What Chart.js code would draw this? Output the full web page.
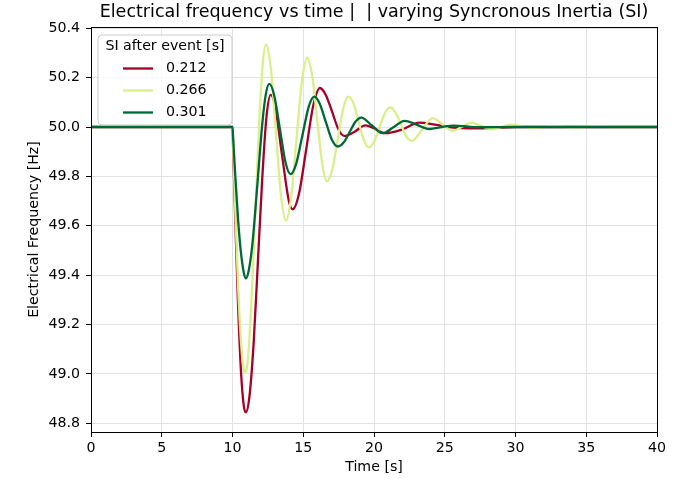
<!DOCTYPE html>
<html><head><meta charset="utf-8">
<script src="https://cdn.jsdelivr.net/npm/chart.js@4.4.0/dist/chart.umd.min.js"></script>
<style>html,body{margin:0;padding:0;background:#fff;}</style>
</head><body>
<canvas id="c" width="680" height="479"></canvas>
<script>
// ---- data ----
const chartTitle = 'Electrical frequency vs time |  | varying Syncronous Inertia (SI)';
const xLabel = 'Time [s]';
const yLabel = 'Electrical Frequency [Hz]';
const legendTitle = 'SI after event [s]';
const siLabels = ['0.212', '0.266', '0.301'];
const seriesColors = ['#a50026', '#d9ef8b', '#006837'];
const xTicks = [0, 5, 10, 15, 20, 25, 30, 35, 40];
const yTicks = [48.8, 49.0, 49.2, 49.4, 49.6, 49.8, 50.0, 50.2, 50.4];

const redTime = [0, 10, 10.05, 10.2, 10.4, 10.6, 10.8, 10.95, 11.2, 11.5, 11.8, 12.1, 12.4, 12.7, 13.0, 13.5, 14.0, 14.25, 14.7, 15.2, 15.7, 16.18, 16.6, 17.0, 17.5, 17.9, 18.6, 19.4, 20.0, 20.8, 22.0, 23.2, 24.3, 25.6, 27.0, 28.2, 30.0, 32, 40];
const redFreq = [50.0, 50.0, 49.90, 49.62, 49.27, 49.01, 48.87, 48.845, 48.91, 49.13, 49.46, 49.79, 50.04, 50.13, 50.087, 49.886, 49.696, 49.667, 49.73, 49.906, 50.085, 50.158, 50.129, 50.068, 49.989, 49.964, 49.98, 50.007, 49.995, 49.975, 49.99, 50.018, 50.01, 49.998, 49.995, 49.996, 50.0, 50.0, 50.0];

const lightTime = [0, 10, 10.05, 10.2, 10.4, 10.6, 10.75, 10.88, 11.05, 11.3, 11.6, 11.9, 12.15, 12.37, 12.7, 13.05, 13.4, 13.77, 14.15, 14.5, 14.9, 15.28, 15.65, 16.0, 16.35, 16.68, 17.05, 17.45, 17.85, 18.2, 18.55, 18.9, 19.3, 19.63, 20.0, 20.4, 20.8, 21.13, 21.5, 21.9, 22.3, 22.7, 23.4, 24.15, 24.85, 25.55, 26.2, 26.85, 27.6, 28.3, 29.0, 29.7, 30.4, 31.2, 32.6, 34.0, 35.5, 37, 40];
const lightFreq = [50.0, 50.0, 49.91, 49.66, 49.35, 49.13, 49.035, 49.006, 49.04, 49.25, 49.636, 50.035, 50.265, 50.335, 50.241, 49.993, 49.737, 49.62, 49.718, 49.934, 50.182, 50.281, 50.2, 50.023, 49.848, 49.78, 49.828, 49.955, 50.08, 50.123, 50.095, 50.025, 49.945, 49.918, 49.94, 50.0, 50.06, 50.079, 50.06, 50.012, 49.96, 49.944, 49.99, 50.036, 50.01, 49.984, 50.0, 50.018, 50.004, 49.991, 50.0, 50.01, 50.003, 49.996, 50.005, 49.998, 50.002, 50.0, 50.0];

const darkTime = [0, 10, 10.05, 10.2, 10.4, 10.6, 10.8, 10.95, 11.15, 11.4, 11.75, 12.1, 12.35, 12.6, 12.95, 13.35, 13.75, 14.1, 14.5, 14.95, 15.4, 15.78, 16.15, 16.6, 17.05, 17.45, 17.85, 18.28, 18.7, 19.1, 19.85, 20.6, 21.4, 22.15, 23.0, 23.9, 24.8, 25.6, 27.5, 30, 40];
const darkFreq = [50.0, 50.0, 49.95, 49.80, 49.62, 49.49, 49.41, 49.387, 49.42, 49.523, 49.762, 50.01, 50.131, 50.175, 50.128, 49.992, 49.856, 49.809, 49.851, 49.969, 50.085, 50.123, 50.096, 50.02, 49.945, 49.921, 49.937, 49.98, 50.022, 50.038, 50.006, 49.975, 50.0, 50.025, 50.01, 49.992, 50.0, 50.006, 49.999, 50.0, 50.0];

// ---- chart ----
const FONT = '"DejaVu Sans", "Liberation Sans", sans-serif';
const pts = (t, f) => t.map((v, i) => ({x: v, y: f[i]}));
const seriesData = [pts(redTime, redFreq), pts(lightTime, lightFreq), pts(darkTime, darkFreq)];

const datasets = seriesData.map((d, i) => ({
  label: siLabels[i],
  data: d,
  borderColor: seriesColors[i],
  backgroundColor: seriesColors[i],
  borderWidth: 2.3,
  pointRadius: 0,
  fill: false,
  cubicInterpolationMode: 'monotone',
  order: 3 - i
}));

const framePlugin = {
  id: 'frame',
  afterDatasetsDraw(chart) {
    const {ctx, chartArea: a} = chart;
    ctx.save();
    ctx.strokeStyle = '#000';
    ctx.lineWidth = 1;
    const l = Math.round(a.left) + 0.5, r = Math.round(a.right) + 0.5;
    const t = Math.round(a.top) + 0.5, b = Math.round(a.bottom) + 0.5;
    ctx.strokeRect(l, t, r - l, b - t);

    // legend box
    const bx = a.left + 7, by = a.top + 8, bw = 134, bh = 90, rad = 4;
    ctx.beginPath();
    ctx.moveTo(bx + rad, by);
    ctx.arcTo(bx + bw, by, bx + bw, by + bh, rad);
    ctx.arcTo(bx + bw, by + bh, bx, by + bh, rad);
    ctx.arcTo(bx, by + bh, bx, by, rad);
    ctx.arcTo(bx, by, bx + bw, by, rad);
    ctx.closePath();
    ctx.fillStyle = 'rgba(255,255,255,0.8)';
    ctx.fill();
    ctx.strokeStyle = '#cccccc';
    ctx.stroke();

    ctx.font = '14.2px ' + FONT;
    ctx.fillStyle = '#000';
    ctx.textBaseline = 'middle';
    ctx.textAlign = 'center';
    ctx.fillText(legendTitle, bx + bw / 2, by + 11.5);
    ctx.textAlign = 'left';
    siLabels.forEach((lab, i) => {
      const yy = by + 33.5 + i * 22;
      ctx.strokeStyle = seriesColors[i];
      ctx.lineWidth = 2.3;
      ctx.beginPath();
      ctx.moveTo(bx + 25, yy);
      ctx.lineTo(bx + 55, yy);
      ctx.stroke();
      ctx.fillText(lab, bx + 68, yy);
    });

    ctx.font = '17.5px ' + FONT;
    ctx.textAlign = 'center';
    ctx.textBaseline = 'middle';
    ctx.fillText(chartTitle, (a.left + a.right) / 2, 12.5);
    ctx.restore();
  }
};

const tickFont = {family: FONT, size: 14.2};

new Chart(document.getElementById('c'), {
  type: 'line',
  data: {datasets},
  plugins: [framePlugin],
  options: {
    responsive: false,
    animation: false,
    devicePixelRatio: 1,
    layout: {padding: {left: 0, right: 23, top: 27, bottom: 0}},
    plugins: {legend: {display: false}, tooltip: {enabled: false}, title: {display: false}},
    scales: {
      x: {
        type: 'linear', min: 0, max: 40,
        afterBuildTicks: s => { s.ticks = xTicks.map(v => ({value: v})); },
        afterFit: s => { s.height = 47; },
        ticks: {font: tickFont, color: '#000', padding: 3, maxRotation: 0, autoSkip: false, callback: v => String(v)},
        grid: {color: '#e2e2e2', tickColor: '#000', tickLength: 5, lineWidth: 1},
        border: {display: false},
        title: {display: true, text: xLabel, font: tickFont, color: '#000', padding: {top: 0, bottom: 3}}
      },
      y: {
        type: 'linear', min: 48.765, max: 50.405,
        afterBuildTicks: s => { s.ticks = yTicks.map(v => ({value: v})); },
        afterFit: s => { s.width = 91; },
        ticks: {font: tickFont, color: '#000', padding: 6, autoSkip: false, callback: v => Number(v).toFixed(1)},
        grid: {color: '#e2e2e2', tickColor: '#000', tickLength: 5, lineWidth: 1},
        border: {display: false},
        title: {display: true, text: yLabel, font: tickFont, color: '#000', padding: {top: 25.5, bottom: 0}}
      }
    }
  }
});
</script>
</body></html>
